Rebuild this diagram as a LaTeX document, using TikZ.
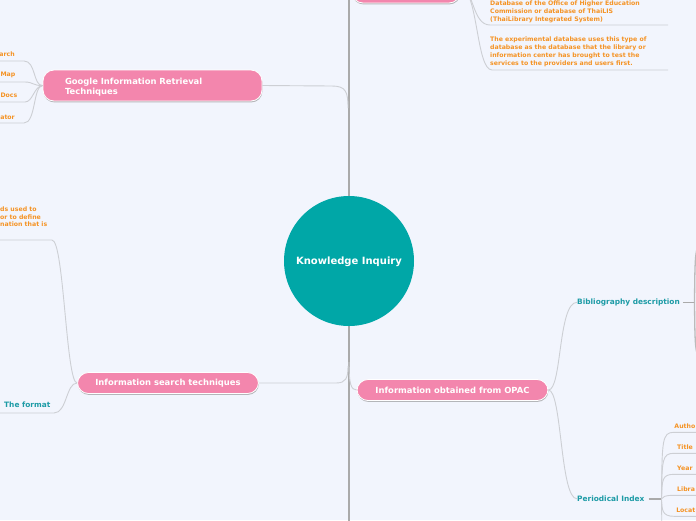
\documentclass[tikz,border=0pt]{standalone}
\usepackage{fontspec}
\setmainfont{DejaVu Sans}
\usetikzlibrary{shadows}
\definecolor{bgc}{HTML}{F2F5FD}
\definecolor{pinkc}{HTML}{F386AD}
\definecolor{tealc}{HTML}{00A7A7}
\definecolor{tealtxt}{HTML}{1D9BA6}
\definecolor{orangec}{HTML}{F59324}
\definecolor{linec}{HTML}{CDCFD4}
\definecolor{spinec}{HTML}{AAAAAA}
\tikzset{
  pill/.style={draw=white, line width=0.8pt, fill=pinkc, rounded corners=11pt,
    text=white, font=\bfseries\fontsize{8.4}{10}\selectfont, inner ysep=0pt,
    drop shadow={shadow xshift=0.4pt, shadow yshift=-1.4pt, fill=black!45, opacity=0.6}},
  conn/.style={draw=linec, line width=0.9pt},
  thickconn/.style={draw=spinec, line width=1.8pt},
  spine/.style={draw=spinec, line width=2.6pt},
  orangetxt/.style={text=orangec, font=\bfseries\fontsize{6.2}{8}\selectfont, inner sep=0pt},
  tealtxtstyle/.style={text=tealtxt, font=\bfseries\fontsize{7.4}{9}\selectfont, inner sep=0pt}
}
\begin{document}
\begin{tikzpicture}[x=1pt,y=-1pt]
\useasboundingbox (0,0) rectangle (696,520);
\clip (0,0) rectangle (696,520);
\fill[bgc] (0,0) rectangle (696,520);

% spine
\coordinate (spt) at (349,-10);
\coordinate (spb) at (349,530);
\draw[spine] (spt) -- (spb);

% central node
\node[circle, fill=tealc, minimum size=130pt, inner sep=0pt, text=white, text depth=0pt,
  font=\bfseries\fontsize{10}{12}\selectfont] (ki) at (349,261) {Knowledge Inquiry};

% top node (partially visible)
\node[pill, minimum width=108pt, minimum height=30pt] (top) at (406,-12) {};
\coordinate (t1) at (668,25);
\coordinate (t2) at (668,70);
\draw[conn] (top.east) .. controls (474,-12) and (472,25) .. (490,25) -- (t1);
\draw[conn] (top.east) .. controls (478,-12) and (476,70) .. (492,70) -- (t2);
\node[orangetxt, align=left, anchor=north west] (db1) at (490,0.4)
  {Database of the Office of Higher Education\\Commission or database of ThaiLIS\\(ThaiLibrary Integrated System)};
\node[orangetxt, align=left, anchor=north west] (db2) at (490,36.8)
  {The experimental database uses this type of\\database as the database that the library or\\information center has brought to test the\\services to the providers and users first.};

% Google node
\node[pill, minimum width=219pt, minimum height=31pt, text width=175pt, align=left,
  inner xsep=22pt, text depth=7.5pt, font=\bfseries\fontsize{8.4}{10}\selectfont] (goog) at (152.5,85.5)
  {Google Information Retrieval\\Techniques};
\draw[conn] (goog.east) -- (332,86) .. controls (346,86) and (348,92) .. (348,108);
\coordinate (g1) at (-5,61);
\coordinate (g2) at (-5,82);
\coordinate (g3) at (-5,102);
\coordinate (g4) at (-5,123);
\draw[conn] (goog.west) .. controls (33,86) and (36,61) .. (24,61) -- (g1);
\draw[conn] (goog.west) .. controls (34,86) and (33,82) .. (25,82) -- (g2);
\draw[conn] (goog.west) .. controls (34,86) and (33,102) .. (25,102) -- (g3);
\draw[conn] (goog.west) .. controls (33,86) and (36,123) .. (24,123) -- (g4);
\node[orangetxt, anchor=base east] (ga) at (15,56.6) {arch};
\node[orangetxt, anchor=base east] (gb) at (15.5,76.6) {Map};
\node[orangetxt, anchor=base east] (gc) at (17.5,97.6) {Docs};
\node[orangetxt, anchor=base east] (gd) at (15,119) {ator};

% Information search techniques
\node[pill, minimum width=181pt, minimum height=21pt] (sit) at (168,383) {Information search techniques};
\draw[conn] (sit.east) -- (336,383) .. controls (346,383) and (348,378) .. (348,366);
\coordinate (s1) at (-5,240);
\coordinate (s2) at (-5,413);
\draw[conn] (sit.west) .. controls (66,383) and (64,240) .. (52,240) -- (s1);
\draw[conn] (sit.west) .. controls (66,383) and (67,413) .. (54,413) -- (s2);
\node[orangetxt, align=left, anchor=north west, font=\bfseries\fontsize{6.2}{7.7}\selectfont] (kw) at (0,206.6)
  {ds used to\\or to define\\nation that is};
\node[tealtxtstyle, anchor=base west] (fmt) at (4,407.8) {The format};

% Information obtained from OPAC
\node[pill, minimum width=191pt, minimum height=21pt] (opac) at (452.5,390) {Information obtained from OPAC};
\draw[conn] (349,362) .. controls (349,384) and (351,390) .. (opac.west);
\node[tealtxtstyle, anchor=west] (bib) at (577,302.3) {Bibliography description};
\node[tealtxtstyle, anchor=west] (pix) at (577,498.8) {Periodical Index};
\draw[conn] (opac.east) .. controls (562,390) and (558,302.3) .. (bib.west);
\draw[conn] (opac.east) .. controls (562,390) and (560,498.8) .. (pix.west);

% Bibliography children (off to the right)
\coordinate (bj) at (694.5,302.3);
\coordinate (bu) at (704,244);
\coordinate (bd) at (704,358);
\draw[thickconn, line width=1.5pt] (bib.east) ++(3,0) -- (bj);
\draw[conn, draw=spinec!80, line width=1.3pt] (bj) .. controls (695,250) and (695,244) .. (bu);
\draw[conn, draw=spinec!80, line width=1.3pt] (bj) .. controls (695,352) and (695,358) .. (bd);

% Periodical index children
\coordinate (pj) at (661.5,498.8);
\draw[thickconn, line width=1.5pt] (pix.east) ++(4,0) -- (pj);
\coordinate (p1) at (700,432.3);
\coordinate (p2) at (700,453.3);
\coordinate (p3) at (700,474.3);
\coordinate (p4) at (700,495.3);
\coordinate (p5) at (700,516.3);
\coordinate (p6) at (662,540);
\draw[conn] (pj) .. controls (662,440) and (662,432.3) .. (674,432.3) -- (p1);
\draw[conn] (pj) .. controls (662,460) and (662,453.3) .. (674,453.3) -- (p2);
\draw[conn] (pj) .. controls (662,480) and (662,474.3) .. (674,474.3) -- (p3);
\draw[conn] (pj) .. controls (663,497) and (664,495.3) .. (674,495.3) -- (p4);
\draw[conn] (pj) .. controls (662,510) and (662,516.3) .. (674,516.3) -- (p5);
\draw[conn] (pj) -- (p6);
\node[orangetxt, anchor=base east] (pa) at (695.5,428) {Autho};
\node[orangetxt, anchor=base west] (pb) at (677,449) {Title};
\node[orangetxt, anchor=base west] (pc) at (677,470) {Year};
\node[orangetxt, anchor=base west] (pd) at (677,491) {Libra};
\node[orangetxt, anchor=base east] (pe) at (695.5,512) {Locat};
\end{tikzpicture}
\end{document}
